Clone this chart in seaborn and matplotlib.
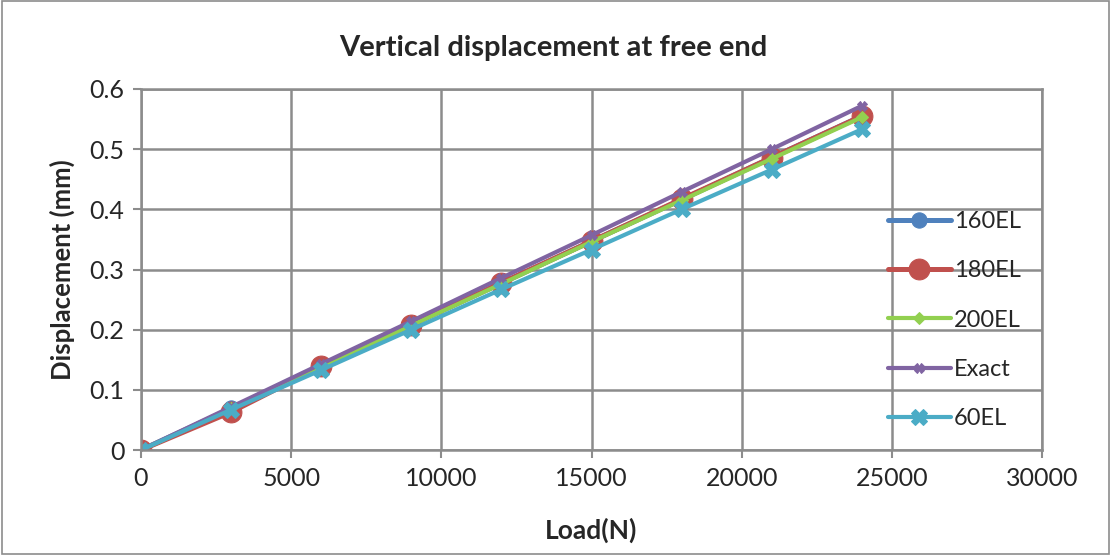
import matplotlib
matplotlib.use("Agg")
import matplotlib.pyplot as plt
import seaborn as sns
import pandas as pd
from matplotlib.patches import Rectangle

loads = [0, 3000, 6000, 9000, 12000, 15000, 18000, 21000, 24000]
el160 = [0, 0.069, 0.139, 0.208, 0.277, 0.347, 0.416, 0.486, 0.555]
el180 = [0, 0.063, 0.139, 0.208, 0.278, 0.347, 0.417, 0.486, 0.555]
el200 = [0, 0.069, 0.138, 0.207, 0.276, 0.346, 0.415, 0.484, 0.553]
exact = [0, 0.0715, 0.143, 0.214, 0.286, 0.357, 0.429, 0.500, 0.572]
el60 = [0, 0.067, 0.133, 0.200, 0.267, 0.333, 0.400, 0.466, 0.533]

series = [
    ("160EL", el160, "#4F81BD", "o", 11, 3.6),
    ("180EL", el180, "#C0504D", "o", 15, 3.6),
    ("200EL", el200, "#92D050", "D", 6, 3.0),
    ("Exact", exact, "#8064A2", "X", 7, 3.0),
    ("60EL", el60, "#4BACC6", "X", 12, 3.0),
]

sns.set_theme(style="white")
plt.rcParams['font.family'] = ['Lato', 'DejaVu Sans']

fig = plt.figure(figsize=(11.11, 5.55), dpi=100)
ax = fig.add_axes([141/1111, 1 - 450/555, (1042-141)/1111, (450-89)/555])

for name, vals, col, mk, ms, lw in series:
    df = pd.DataFrame({"Load": loads, "Disp": vals})
    sns.lineplot(data=df, x="Load", y="Disp", ax=ax, color=col, marker=mk,
                 markersize=ms, markeredgecolor=col, linewidth=lw, label=name)

ax.set_xlim(0, 30000)
ax.set_ylim(0, 0.6)
ax.set_xticks(range(0, 30001, 5000))
ax.set_yticks([0, 0.1, 0.2, 0.3, 0.4, 0.5, 0.6])
ax.set_yticklabels(["0", "0.1", "0.2", "0.3", "0.4", "0.5", "0.6"])
ax.grid(True, color="#8c8c8c", linewidth=1.8)
for s in ax.spines.values():
    s.set_color("#8c8c8c")
    s.set_linewidth(1.8)
ax.tick_params(axis="both", which="both", direction="out", length=6, width=1.5,
               color="#8c8c8c", labelsize=18, pad=6)
ax.tick_params(left=True, bottom=True)
ax.set_xlabel("Load(N)", fontsize=19, fontweight="bold", labelpad=20)
ax.set_ylabel("Displacement (mm)", fontsize=18.5, fontweight="bold", labelpad=10)
fig.suptitle("Vertical displacement at free end", fontsize=21, fontweight="bold",
             x=553/1111, y=1 - 48/555, va="center")

leg = ax.legend(loc="center left", bbox_to_anchor=(0.805, 0.36), frameon=False,
                fontsize=17, handlelength=2.7, labelspacing=1.2, handletextpad=0.1)

fig.patches.append(Rectangle((0.002, 0.002), 0.996, 0.996, transform=fig.transFigure,
                             fill=False, edgecolor="#8c8c8c", linewidth=1.2))

fig.savefig("out.png", dpi=100)
